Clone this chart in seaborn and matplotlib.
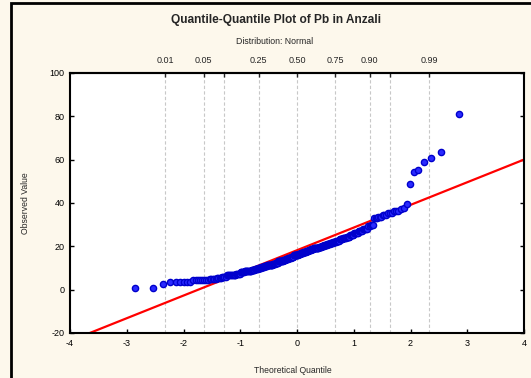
import numpy as np
import pandas as pd
import matplotlib
matplotlib.use("Agg")
import matplotlib.pyplot as plt
import seaborn as sns
from matplotlib.patches import Rectangle
from statistics import NormalDist

pb_levels = [0.8, 2.8, 3.5, 4.3, 4.6, 5.0, 5.4, 6.0, 6.6, 6.9, 7.4, 8.0, 8.5,
             8.8, 9.2, 9.7, 10.0, 10.4, 10.8, 11.2, 11.6, 12.0, 12.4, 13.0,
             13.4, 13.9, 14.3, 14.8, 15.3, 15.8, 16.2, 16.6, 16.9, 17.4, 18.0,
             18.3, 18.6, 19.0, 19.4, 19.8, 20.2, 20.6, 21.0, 21.5, 22.1, 22.6,
             23.3, 23.9, 24.5, 25.2, 26.0, 27.0, 28.2, 29.4, 30.0, 33.0, 33.5,
             34.5, 35.3, 36.2, 37.0, 37.7, 39.7, 48.9, 54.3, 55.4, 59.1, 60.9,
             63.7, 81.2]
pb_counts = [2, 1, 6, 4, 4, 5, 4, 4] + [5] * 45 + [2, 3, 3, 3, 3, 3, 3,
                                                  1, 1, 1, 1, 1, 1, 1, 1, 1, 1]

# fitted reference line
fit_intercept = 18.2
fit_slope = 10.46

# top axis probabilities
top_probs = [0.01, 0.05, 0.10, 0.25, 0.50, 0.75, 0.90, 0.95, 0.99]
top_labels = ["0.01", "0.05", "", "0.25", "0.50", "0.75", "0.90", "", "0.99"]

x_ticks = [-4, -3, -2, -1, 0, 1, 2, 3, 4]
y_ticks = [-20, 0, 20, 40, 60, 80, 100]

observed = np.repeat(pb_levels, pb_counts)
n = len(observed)
nd = NormalDist()
theoretical = np.array([nd.inv_cdf((i - 0.375) / (n + 0.25)) for i in range(1, n + 1)])
df = pd.DataFrame({"theoretical": theoretical, "observed": observed})

sns.set_theme(style="ticks")
plt.rcParams["font.family"] = ["Liberation Sans", "DejaVu Sans"]
plt.rcParams["axes.unicode_minus"] = False

bg = "#fdf8ec"
fig = plt.figure(figsize=(5.31, 3.78), dpi=100, facecolor=bg)
ax = fig.add_axes([70 / 531, 1 - 333 / 378, 454 / 531, 260 / 378])
ax.set_facecolor("white")

fig.add_artist(Rectangle((11 / 531, -0.2), 1.2, 0.2 + (378 - 3) / 378,
                         transform=fig.transFigure, fill=False,
                         edgecolor="black", lw=2))

for p in top_probs:
    ax.axvline(nd.inv_cdf(p), color="#c8c8c8", lw=0.8, ls=(0, (3, 2)), zorder=0)

line_x = np.array([-4.0, 4.0])
sns.lineplot(x=line_x, y=fit_intercept + fit_slope * line_x, color="#ff0000",
             lw=1.6, ax=ax, zorder=2)
sns.scatterplot(data=df, x="theoretical", y="observed", ax=ax, s=20,
                color="#2a2aff", edgecolor="#0000cc", linewidth=1.0, zorder=3)

ax.set_xlim(-4, 4)
ax.set_ylim(-20, 100)
ax.set_xticks(x_ticks)
ax.set_yticks(y_ticks)
ax.tick_params(direction="in", length=3, width=1, labelsize=6.5, colors="black",
               right=True, top=False, pad=4)

sec = ax.secondary_xaxis("top")
sec.set_xticks([nd.inv_cdf(p) for p in top_probs])
sec.set_xticklabels(top_labels)
sec.tick_params(direction="in", length=3, width=1, labelsize=6.5, pad=6)
sec.spines["top"].set_linewidth(1.5)

for s in ax.spines.values():
    s.set_linewidth(1.5)
    s.set_color("black")

ax.set_xlabel("Theoretical Quantile", fontsize=6.2)
ax.set_ylabel("Observed Value", fontsize=6.2)
ax.xaxis.set_label_coords(0.49, -0.127)
ax.yaxis.set_label_coords(-0.088, 0.5)

fig.text(276 / 531, 1 - 20 / 378, "Quantile-Quantile Plot of Pb in Anzali",
         ha="center", va="center", fontsize=8.6, fontweight="bold")
fig.text(275 / 531, 1 - 41 / 378, "Distribution: Normal",
         ha="center", va="center", fontsize=6.3)

fig.savefig("out.png", dpi=100, facecolor=bg)
